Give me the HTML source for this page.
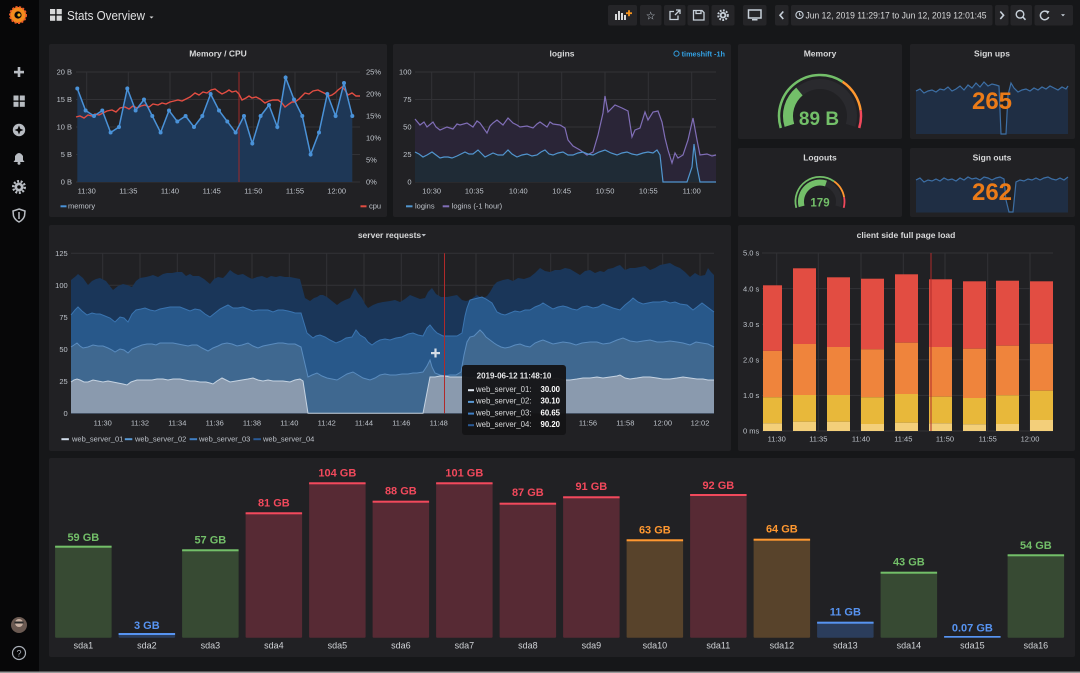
<!DOCTYPE html>
<html><head><meta charset="utf-8"><style>
html,body{margin:0;padding:0;background:#161719;width:1080px;height:673px;overflow:hidden}
svg{display:block;font-family:"Liberation Sans",Arial,sans-serif}
.t{fill:#d8d9da;font-size:8.5px;font-weight:bold;text-anchor:middle}
.k{fill:#bfc4cb;font-size:7.5px}
.km{fill:#bfc4cb;font-size:7.5px;text-anchor:middle}
.ke{fill:#bfc4cb;font-size:7.5px;text-anchor:end}
.g{stroke:#323236;stroke-width:1}
.bl{font-size:11px;font-weight:bold;text-anchor:middle}
.sl{fill:#d0d3d7;font-size:9px;text-anchor:middle}
.btn{fill:#252528}
.ic{fill:none;stroke:#c7d0d9;stroke-width:1.3}
</style></head><body>
<svg width="1080" height="673" viewBox="0 0 1080 673">
<rect x="0" y="0" width="1080" height="673" fill="#161719"/>
<!-- sidebar -->
<rect x="0" y="0" width="39" height="673" fill="#070708"/>
<circle cx="18" cy="15" r="8" fill="#f38b1c"/>
<circle cx="18" cy="15" r="8" fill="none" stroke="#f05a28" stroke-width="2" stroke-dasharray="2 1.5"/>
<circle cx="18" cy="15" r="3.6" fill="#070708"/>
<circle cx="19" cy="15" r="1.6" fill="#f9b11b"/>
<rect x="14" y="70.8" width="10" height="2.6" fill="#b8bcc2"/><rect x="17.7" y="67" width="2.6" height="10" fill="#b8bcc2"/>
<rect x="13.5" y="95.5" width="5" height="5" fill="#b8bcc2"/><rect x="19.8" y="95.5" width="5" height="5" fill="#b8bcc2"/>
<rect x="13.5" y="101.8" width="5" height="5" fill="#b8bcc2"/><rect x="19.8" y="101.8" width="5" height="5" fill="#b8bcc2"/>
<circle cx="19" cy="130" r="6.2" fill="#b8bcc2"/><polygon points="19,125.5 20.3,128.7 23.5,130 20.3,131.3 19,134.5 17.7,131.3 14.5,130 17.7,128.7" fill="#070708"/>
<path d="M13.5 162 L15 160 L15 156 Q19 150 23 156 L23 160 L24.5 162 Z" fill="#b8bcc2"/><circle cx="19" cy="163.3" r="1.5" fill="#b8bcc2"/>
<circle cx="19" cy="187" r="4.5" fill="#b8bcc2"/><circle cx="19" cy="187" r="5.8" fill="none" stroke="#b8bcc2" stroke-width="2.4" stroke-dasharray="2 1.6"/><circle cx="19" cy="187" r="1.8" fill="#070708"/>
<path d="M19 209 L25 211 L24.5 216 Q23 220 19 222 Q15 220 13.5 216 L13 211 Z" fill="none" stroke="#b8bcc2" stroke-width="1.5"/><path d="M19 212 L19 219" stroke="#b8bcc2" stroke-width="1.5"/>
<circle cx="19" cy="625" r="8" fill="#6b5a52"/><circle cx="19" cy="623" r="4" fill="#c9b1a3"/><rect x="14.5" y="621.5" width="9" height="2" fill="#2a2a2a"/>
<circle cx="19" cy="653" r="6.5" fill="none" stroke="#aab0b8" stroke-width="1.2"/><text x="19" y="656.5" fill="#aab0b8" font-size="9" text-anchor="middle">?</text>
<rect x="0" y="671.5" width="1080" height="1.5" fill="#9a9a9a"/>

<!-- top bar -->
<rect x="50" y="9" width="5.2" height="5.2" fill="#d8d9da"/><rect x="56.6" y="9" width="5.2" height="5.2" fill="#d8d9da"/>
<rect x="50" y="15.6" width="5.2" height="5.2" fill="#d8d9da"/><rect x="56.6" y="15.6" width="5.2" height="5.2" fill="#d8d9da"/>
<text x="67" y="20" fill="#e0e1e2" font-size="12.5" textLength="78" lengthAdjust="spacingAndGlyphs">Stats Overview</text>
<polygon points="149.5,16.5 153.5,16.5 151.5,18.5" fill="#d8d9da"/>

<rect class="btn" x="608" y="5" width="29" height="20.5" rx="2"/>
<rect x="615" y="14" width="2" height="6" fill="#d8d9da"/><rect x="618" y="11" width="2" height="9" fill="#d8d9da"/><rect x="621" y="13" width="2" height="7" fill="#d8d9da"/><rect x="624" y="15" width="2" height="5" fill="#d8d9da"/>
<rect x="626" y="12.3" width="6" height="1.8" fill="#f7941d"/><rect x="628.1" y="10.2" width="1.8" height="6" fill="#f7941d"/>
<rect class="btn" x="640" y="5" width="21.5" height="20.5" rx="2"/>
<text x="650.7" y="19.3" fill="#c7d0d9" font-size="11" text-anchor="middle" font-family="DejaVu Sans">☆</text>
<rect class="btn" x="664" y="5" width="21.5" height="20.5" rx="2"/>
<path class="ic" d="M678 15.5 V19.5 H670 V11.5 H674 M676 10 H680 V14 M680 10 L675 15"/>
<rect class="btn" x="687.5" y="5" width="21.5" height="20.5" rx="2"/>
<path class="ic" d="M693.5 10.5 H702 L704 12.5 V20 H693.5 Z M696 10.5 V13.5 H701 V10.5"/>
<rect class="btn" x="711.5" y="5" width="23" height="20.5" rx="2"/>
<circle cx="723" cy="15.2" r="3.3" fill="#c7d0d9"/><circle cx="723" cy="15.2" r="4.8" fill="none" stroke="#c7d0d9" stroke-width="2" stroke-dasharray="1.8 1.4"/><circle cx="723" cy="15.2" r="1.4" fill="#252528"/>
<rect class="btn" x="743" y="5" width="23.5" height="20.5" rx="2"/>
<rect x="748.5" y="10" width="12.5" height="8" fill="none" stroke="#c7d0d9" stroke-width="1.5"/><rect x="752" y="19" width="5.5" height="1.5" fill="#c7d0d9"/>
<rect class="btn" x="775" y="5" width="13.5" height="20.5" rx="2"/>
<polyline points="783.3,11.5 780,15.2 783.3,19" fill="none" stroke="#c7d0d9" stroke-width="1.6"/>
<rect class="btn" x="791" y="5" width="201.5" height="20.5" rx="2"/>
<circle cx="799.5" cy="15" r="3.6" fill="none" stroke="#c7d0d9" stroke-width="1.1"/><path d="M799.5 12.8 V15.2 H801.3" fill="none" stroke="#c7d0d9" stroke-width="0.9"/>
<text x="805.5" y="18.3" fill="#d8d9da" font-size="9.5" textLength="181" lengthAdjust="spacingAndGlyphs">Jun 12, 2019 11:29:17 to Jun 12, 2019 12:01:45</text>
<rect class="btn" x="995" y="5" width="13.5" height="20.5" rx="2"/>
<polyline points="1000.3,11.5 1003.6,15.2 1000.3,19" fill="none" stroke="#c7d0d9" stroke-width="1.6"/>
<rect class="btn" x="1010.5" y="5" width="21.5" height="20.5" rx="2"/>
<circle cx="1020" cy="14.3" r="3.8" fill="none" stroke="#c7d0d9" stroke-width="1.4"/><path d="M1022.8 17 L1025.5 19.8" stroke="#c7d0d9" stroke-width="1.6"/>
<rect class="btn" x="1034.5" y="5" width="38.5" height="20.5" rx="2"/>
<path d="M1047.5 12.2 A4.3 4.3 0 1 0 1048.7 17" fill="none" stroke="#c7d0d9" stroke-width="1.5"/><polygon points="1046,10.5 1049.5,11.3 1047.5,14.3" fill="#c7d0d9"/>
<polygon points="1061,14.2 1065,14.2 1063,16.4" fill="#c7d0d9"/>

<!-- panels -->
<rect x="49" y="44" width="338" height="173" rx="2" fill="#212124"/>
<rect x="393" y="44" width="338" height="173" rx="2" fill="#212124"/>
<rect x="738" y="44" width="164" height="95" rx="2" fill="#212124"/>
<rect x="910" y="44" width="165" height="95" rx="2" fill="#212124"/>
<rect x="738" y="148" width="164" height="69" rx="2" fill="#212124"/>
<rect x="910" y="148" width="165" height="69" rx="2" fill="#212124"/>
<rect x="49" y="225" width="682" height="226" rx="2" fill="#212124"/>
<rect x="738" y="225" width="337" height="226" rx="2" fill="#212124"/>
<rect x="49" y="458" width="1026" height="199" rx="2" fill="#212124"/>

<!-- ===== Memory / CPU ===== -->
<text class="t" x="218" y="56.5">Memory / CPU</text>
<g class="g">
<line x1="76" y1="72" x2="360" y2="72"/><line x1="76" y1="99.5" x2="360" y2="99.5"/><line x1="76" y1="127" x2="360" y2="127"/><line x1="76" y1="154.5" x2="360" y2="154.5"/><line x1="76" y1="182" x2="360" y2="182"/>
<line x1="86.7" y1="72" x2="86.7" y2="182"/><line x1="128.3" y1="72" x2="128.3" y2="182"/><line x1="170" y1="72" x2="170" y2="182"/><line x1="211.7" y1="72" x2="211.7" y2="182"/><line x1="253.3" y1="72" x2="253.3" y2="182"/><line x1="295" y1="72" x2="295" y2="182"/><line x1="336.7" y1="72" x2="336.7" y2="182"/>
</g>
<polygon fill="#1e3756" points="77.3,88.5 85.6,110.5 94,116 102.3,110.5 110.6,132.5 119,127 127.3,88.5 135.6,110.5 144,99.5 152.3,116 160.6,132.5 169,110.5 177.3,121.5 185.6,116 194,127 202.3,116 210.6,94 219,110.5 227.3,121.5 235.6,132.5 244,116 252.3,143.5 260.6,116 269,105 277.3,127 285.6,77.5 294,99.5 302.3,116 310.6,154.5 319,132.5 327.3,94 335.6,116 344,83 352.3,116 352.3,182 77.3,182"/>
<line x1="239" y1="72" x2="239" y2="182" stroke="#9e2a2a" stroke-width="1"/>
<polyline fill="none" stroke="#e24d42" stroke-width="1.4" points="76,117 80,116 84,118 88,115 92,116 95,114 99,115 103,113 107,111 112,110 116,112 120,108 125,107 129,109 133,106 137,108 141,106 145,105 149,107 153,104 158,105 162,103 166,104 170,102 174,101 178,100 182,101 186,99 190,97 195,93 199,95 203,92 207,93 211,90 215,89 219,92 222,94 226,92 229,90 232,92 236,91 239,94 242,100 246,98 249,96 252,98 256,97 260,99 265,103 269,101 273,100 278,100 282,103 285,107 289,104 292,102 295,102 299,99 302,96 305,93 309,94 313,91 318,90 322,92 326,94 329,96 332,95 335,93 338,90 342,87 345,90 348,95 352,93 356,96 360,96"/>
<polyline fill="none" stroke="#4a92d8" stroke-width="1.5" points="77.3,88.5 85.6,110.5 94,116 102.3,110.5 110.6,132.5 119,127 127.3,88.5 135.6,110.5 144,99.5 152.3,116 160.6,132.5 169,110.5 177.3,121.5 185.6,116 194,127 202.3,116 210.6,94 219,110.5 227.3,121.5 235.6,132.5 244,116 252.3,143.5 260.6,116 269,105 277.3,127 285.6,77.5 294,99.5 302.3,116 310.6,154.5 319,132.5 327.3,94 335.6,116 344,83 352.3,116"/>
<g fill="#4a92d8">
<circle cx="77.3" cy="88.5" r="2"/><circle cx="85.6" cy="110.5" r="2"/><circle cx="94" cy="116" r="2"/><circle cx="102.3" cy="110.5" r="2"/><circle cx="110.6" cy="132.5" r="2"/><circle cx="119" cy="127" r="2"/><circle cx="127.3" cy="88.5" r="2"/><circle cx="135.6" cy="110.5" r="2"/><circle cx="144" cy="99.5" r="2"/><circle cx="152.3" cy="116" r="2"/><circle cx="160.6" cy="132.5" r="2"/><circle cx="169" cy="110.5" r="2"/><circle cx="177.3" cy="121.5" r="2"/><circle cx="185.6" cy="116" r="2"/><circle cx="194" cy="127" r="2"/><circle cx="202.3" cy="116" r="2"/><circle cx="210.6" cy="94" r="2"/><circle cx="219" cy="110.5" r="2"/><circle cx="227.3" cy="121.5" r="2"/><circle cx="235.6" cy="132.5" r="2"/><circle cx="244" cy="116" r="2"/><circle cx="252.3" cy="143.5" r="2"/><circle cx="260.6" cy="116" r="2"/><circle cx="269" cy="105" r="2"/><circle cx="277.3" cy="127" r="2"/><circle cx="285.6" cy="77.5" r="2"/><circle cx="294" cy="99.5" r="2"/><circle cx="302.3" cy="116" r="2"/><circle cx="310.6" cy="154.5" r="2"/><circle cx="319" cy="132.5" r="2"/><circle cx="327.3" cy="94" r="2"/><circle cx="335.6" cy="116" r="2"/><circle cx="344" cy="83" r="2"/><circle cx="352.3" cy="116" r="2"/>
</g>
<text class="ke" x="72" y="74.7">20 B</text><text class="ke" x="72" y="102.2">15 B</text><text class="ke" x="72" y="129.7">10 B</text><text class="ke" x="72" y="157.2">5 B</text><text class="ke" x="72" y="184.7">0 B</text>
<text class="k" x="366" y="74.7">25%</text><text class="k" x="366" y="96.7">20%</text><text class="k" x="366" y="118.7">15%</text><text class="k" x="366" y="140.7">10%</text><text class="k" x="366" y="162.7">5%</text><text class="k" x="366" y="184.7">0%</text>
<text class="km" x="86.7" y="193.5">11:30</text><text class="km" x="128.3" y="193.5">11:35</text><text class="km" x="170" y="193.5">11:40</text><text class="km" x="211.7" y="193.5">11:45</text><text class="km" x="253.3" y="193.5">11:50</text><text class="km" x="295" y="193.5">11:55</text><text class="km" x="336.7" y="193.5">12:00</text>
<rect x="60.5" y="205.3" width="6" height="2" fill="#4a92d8"/><text class="k" x="68" y="208.6">memory</text>
<rect x="360.5" y="205.3" width="6" height="2" fill="#e24d42"/><text class="k" x="369" y="208.6">cpu</text>

<!-- ===== logins ===== -->
<text class="t" x="562" y="56.5">logins</text>
<circle cx="676.5" cy="53.6" r="2.6" fill="none" stroke="#33a2e5" stroke-width="0.9"/>
<text x="725" y="56.3" fill="#33a2e5" font-size="7.3" font-weight="bold" text-anchor="end">timeshift -1h</text>
<g class="g">
<line x1="415" y1="72" x2="716" y2="72"/><line x1="415" y1="99.5" x2="716" y2="99.5"/><line x1="415" y1="127" x2="716" y2="127"/><line x1="415" y1="154.5" x2="716" y2="154.5"/><line x1="415" y1="182" x2="716" y2="182"/>
<line x1="431.7" y1="72" x2="431.7" y2="182"/><line x1="474.3" y1="72" x2="474.3" y2="182"/><line x1="518.3" y1="72" x2="518.3" y2="182"/><line x1="561.7" y1="72" x2="561.7" y2="182"/><line x1="605" y1="72" x2="605" y2="182"/><line x1="648.3" y1="72" x2="648.3" y2="182"/><line x1="691.7" y1="72" x2="691.7" y2="182"/>
</g>
<polygon fill="#2a2537" points="415,119 420,125 424,122 427,127 433,122 436,127 440,130 447,127 453,129 457,124 460,125 467,123 473,127 477,121 480,123 487,133 490,126 493,123 497,120 503,125 508,118 513,123 517,125 520,127 527,126 533,128 537,124 540,122 547,127 550,122 553,124 560,125 565,128 568,140 573,146 580,150 587,155 593,152 598,135 603,113 605,96 608,112 615,105 622,108 628,111 632,137 635,130 640,128 645,112 648,120 653,112 658,111 662,122 665,138 668,150 672,163 675,153 678,158 683,155 688,140 693,118 697,140 700,155 707,154 712,156 716,155 716,182 415,182"/>
<polygon fill="#1f2b36" points="415,152 419,154 423,157 427,155 432,152 436,155 440,158 444,157 448,157 452,158 457,156 461,154 465,152 469,154 473,154 478,150 481,153 485,157 489,155 493,153 498,155 503,155 508,150 512,154 517,157 522,155 527,154 532,156 537,155 541,152 545,150 549,154 553,155 558,153 563,152 568,155 573,155 578,153 583,152 588,154 593,155 599,152 605,150 611,153 617,155 622,153 627,152 632,154 637,155 643,153 648,152 653,153 657,150 660,155 663,182 687,182 692,167 694,144 697,167 700,182 716,182 415,182"/>
<polyline fill="none" stroke="#806eb7" stroke-width="1.2" points="415,119 420,125 424,122 427,127 433,122 436,127 440,130 447,127 453,129 457,124 460,125 467,123 473,127 477,121 480,123 487,133 490,126 493,123 497,120 503,125 508,118 513,123 517,125 520,127 527,126 533,128 537,124 540,122 547,127 550,122 553,124 560,125 565,128 568,140 573,146 580,150 587,155 593,152 598,135 603,113 605,96 608,112 615,105 622,108 628,111 632,137 635,130 640,128 645,112 648,120 653,112 658,111 662,122 665,138 668,150 672,163 675,153 678,158 683,155 688,140 693,118 697,140 700,155 707,154 712,156 716,155"/>
<polyline fill="none" stroke="#5195ce" stroke-width="1.2" points="415,152 419,154 423,157 427,155 432,152 436,155 440,158 444,157 448,157 452,158 457,156 461,154 465,152 469,154 473,154 478,150 481,153 485,157 489,155 493,153 498,155 503,155 508,150 512,154 517,157 522,155 527,154 532,156 537,155 541,152 545,150 549,154 553,155 558,153 563,152 568,155 573,155 578,153 583,152 588,154 593,155 599,152 605,150 611,153 617,155 622,153 627,152 632,154 637,155 643,153 648,152 653,153 657,150 660,155 663,182 687,182 692,167 694,144 697,167 700,182 716,182"/>
<text class="ke" x="411.5" y="74.7">100</text><text class="ke" x="411.5" y="102.2">75</text><text class="ke" x="411.5" y="129.7">50</text><text class="ke" x="411.5" y="157.2">25</text><text class="ke" x="411.5" y="184.7">0</text>
<text class="km" x="431.7" y="193.5">10:30</text><text class="km" x="474.3" y="193.5">10:35</text><text class="km" x="518.3" y="193.5">10:40</text><text class="km" x="561.7" y="193.5">10:45</text><text class="km" x="605" y="193.5">10:50</text><text class="km" x="648.3" y="193.5">10:55</text><text class="km" x="691.7" y="193.5">11:00</text>
<rect x="406" y="205.3" width="6.5" height="2" fill="#5195ce"/><text class="k" x="415" y="208.6">logins</text>
<rect x="442.7" y="205.3" width="6.5" height="2" fill="#806eb7"/><text class="k" x="451.7" y="208.6">logins (-1 hour)</text>

<!-- ===== Memory gauge ===== -->
<text class="t" x="820" y="56.5">Memory</text>
<path d="M780.8,128 A41,41 0 0 1 842.6,81.8" fill="none" stroke="#73bf69" stroke-width="2.5"/>
<path d="M842.6,81.8 A41,41 0 0 1 860.6,110.3" fill="none" stroke="#ff9830" stroke-width="2.5"/>
<path d="M860.6,110.3 A41,41 0 0 1 859.2,128" fill="none" stroke="#f2495c" stroke-width="2.5"/>
<path d="M789.4,125.4 A32,32 0 1 1 850.6,125.4" fill="none" stroke="#2a2a2e" stroke-width="10"/>
<path d="M789.4,125.4 A32,32 0 0 1 799.4,91.5" fill="none" stroke="#73bf69" stroke-width="10"/>
<text x="819" y="125" fill="#73bf69" font-size="19" font-weight="bold" text-anchor="middle">89 B</text>

<!-- ===== Logouts gauge ===== -->
<text class="t" x="820" y="160.5">Logouts</text>
<path d="M796.3,207.8 A24.5,24.5 0 0 1 834.1,181.4" fill="none" stroke="#73bf69" stroke-width="1.8"/>
<path d="M834.1,181.4 A24.5,24.5 0 0 1 844.1,197.2" fill="none" stroke="#ff9830" stroke-width="1.8"/>
<path d="M844.1,197.2 A24.5,24.5 0 0 1 843.7,207.8" fill="none" stroke="#f2495c" stroke-width="1.8"/>
<path d="M801.6,206.4 A19,19 0 1 1 838.4,206.4" fill="none" stroke="#2a2a2e" stroke-width="6"/>
<path d="M801.6,206.4 A19,19 0 0 1 826,183.5" fill="none" stroke="#73bf69" stroke-width="6"/>
<text x="820" y="206.7" fill="#73bf69" font-size="11.5" font-weight="bold" text-anchor="middle">179</text>

<!-- ===== Sign ups ===== -->
<text class="t" x="992" y="56.5">Sign ups</text>
<polygon fill="#1f2e44" points="916,91 920,89 924,93 928,91 932,90 936,92 940,89 944,90 948,87 952,91 956,89 960,86 964,90 968,85 972,88 976,83 980,87 984,82 988,86 992,84 996,85 999,86 1001,134 1006,134 1008,95 1011,83 1014,88 1018,92 1022,90 1026,89 1030,91 1034,88 1038,90 1042,87 1046,89 1050,86 1054,88 1058,90 1062,87 1066,89 1068,86 1068,134 916,134"/>
<polyline fill="none" stroke="#3d6fa5" stroke-width="1.2" points="916,91 920,89 924,93 928,91 932,90 936,92 940,89 944,90 948,87 952,91 956,89 960,86 964,90 968,85 972,88 976,83 980,87 984,82 988,86 992,84 996,85 999,86 1001,134 1006,134 1008,95 1011,83 1014,88 1018,92 1022,90 1026,89 1030,91 1034,88 1038,90 1042,87 1046,89 1050,86 1054,88 1058,90 1062,87 1066,89 1068,86"/>
<text x="992" y="109" fill="#eb7b18" font-size="24" font-weight="bold" text-anchor="middle">265</text>

<!-- ===== Sign outs ===== -->
<text class="t" x="992" y="160.5">Sign outs</text>
<polygon fill="#1f2e44" points="916,180 920,178 924,182 928,180 932,181 936,179 940,181 944,178 948,180 952,179 956,181 960,178 964,180 968,177 972,179 976,178 980,180 984,177 988,178 992,180 996,178 1000,177 1004,179 1006,200 1009,212 1013,212 1016,182 1020,180 1024,181 1028,179 1032,180 1036,178 1040,180 1044,178 1048,177 1052,179 1056,180 1060,178 1064,180 1068,177 1068,212.5 916,212.5"/>
<polyline fill="none" stroke="#3d6fa5" stroke-width="1.2" points="916,180 920,178 924,182 928,180 932,181 936,179 940,181 944,178 948,180 952,179 956,181 960,178 964,180 968,177 972,179 976,178 980,180 984,177 988,178 992,180 996,178 1000,177 1004,179 1006,200 1009,212 1013,212 1016,182 1020,180 1024,181 1028,179 1032,180 1036,178 1040,180 1044,178 1048,177 1052,179 1056,180 1060,178 1064,180 1068,177"/>
<text x="992" y="200" fill="#eb7b18" font-size="24" font-weight="bold" text-anchor="middle">262</text>

<!-- ===== server requests ===== -->
<text class="t" x="389.5" y="238">server requests</text>
<polygon points="421.5,234 426,234 423.75,236.5" fill="#b8bcc2"/>
<g class="g">
<line x1="71" y1="253.3" x2="714" y2="253.3"/><line x1="71" y1="285.3" x2="714" y2="285.3"/><line x1="71" y1="317.3" x2="714" y2="317.3"/><line x1="71" y1="349.3" x2="714" y2="349.3"/><line x1="71" y1="381.3" x2="714" y2="381.3"/><line x1="71" y1="413.3" x2="714" y2="413.3"/>
<line x1="102.7" y1="253.3" x2="102.7" y2="413.3"/><line x1="140" y1="253.3" x2="140" y2="413.3"/><line x1="177.3" y1="253.3" x2="177.3" y2="413.3"/><line x1="214.7" y1="253.3" x2="214.7" y2="413.3"/><line x1="252" y1="253.3" x2="252" y2="413.3"/><line x1="289.3" y1="253.3" x2="289.3" y2="413.3"/><line x1="326.7" y1="253.3" x2="326.7" y2="413.3"/><line x1="364" y1="253.3" x2="364" y2="413.3"/><line x1="401.3" y1="253.3" x2="401.3" y2="413.3"/><line x1="438.7" y1="253.3" x2="438.7" y2="413.3"/><line x1="476" y1="253.3" x2="476" y2="413.3"/><line x1="513.3" y1="253.3" x2="513.3" y2="413.3"/><line x1="550.7" y1="253.3" x2="550.7" y2="413.3"/><line x1="588" y1="253.3" x2="588" y2="413.3"/><line x1="625.3" y1="253.3" x2="625.3" y2="413.3"/><line x1="662.7" y1="253.3" x2="662.7" y2="413.3"/><line x1="700" y1="253.3" x2="700" y2="413.3"/>
</g>
<polygon fill="#1a3659" points="71,280 76,276 78,274 83,278 88,285 92,281 96,279 100,278 106,281 113,290 118,286 123,284 127,285 132,287 136,281 140,278 146,277 150,276 153,275 158,277 163,274 167,273 172,273 177,272 182,272 186,276 190,274 193,276 199,276 204,279 210,284 214,279 218,277 223,278 226,275 230,270 234,273 238,275 243,274 248,277 252,279 257,277 262,276 267,278 271,276 276,277 280,276 285,277 290,277 295,278 300,279 305,298 310,301 314,298 317,297 320,295 323,295 327,297 332,301 337,305 341,302 345,300 350,298 355,288 358,293 362,298 365,304 368,308 373,305 378,303 383,302 390,301 395,300 400,302 405,299 410,295 415,297 420,299 425,298 428,292 432,288 436,294 441,297 447,297 452,296 457,295 462,300 466,301 470,300 474,297 477,295 480,297 483,298 487,296 490,292 494,285 497,282 503,280 508,279 513,281 518,278 524,279 530,277 535,273 540,268 545,271 550,272 555,270 560,270 565,268 570,269 575,272 580,275 585,271 590,270 595,273 600,271 604,272 608,269 613,268 617,266 620,265 625,270 630,268 635,268 640,267 645,266 650,270 655,268 660,265 665,264 670,263 675,266 680,268 685,272 690,277 695,273 700,276 705,275 708,268 711,272 714,275 714,413.3 71,413.3"/>
<polygon fill="#28588a" points="71,315 75,310 78,307 82,311 87,315 92,313 96,314 100,314 105,316 110,318 115,322 120,317 124,318 128,322 132,314 136,310 141,309 145,308 150,310 155,311 160,309 165,308 170,307 175,307 180,307 185,309 190,311 195,309 200,310 205,314 210,317 215,313 220,309 224,307 228,305 233,308 238,308 243,307 248,309 253,311 258,310 263,310 268,310 273,312 278,310 283,310 288,311 292,312 295,313 301,313 307,333 313,338 316,336 320,335 325,337 330,340 336,343 341,341 346,338 352,337 356,330 360,335 365,338 368,342 372,345 376,342 380,340 385,339 390,340 396,338 402,337 408,334 413,333 418,335 423,336 427,328 430,325 434,330 437,333 443,336 450,336 457,336 462,333 465,316 467,308 470,300 474,299 478,298 482,297 486,299 489,301 492,303 497,312 501,314 505,315 510,313 515,311 520,312 525,310 530,310 535,307 540,305 543,303 548,306 553,309 558,307 563,306 567,307 572,309 577,310 582,307 587,306 593,308 598,307 603,304 608,306 613,308 620,310 625,305 630,301 633,298 638,302 643,304 648,303 653,302 660,302 665,301 670,303 675,302 680,304 687,305 693,310 697,307 702,303 706,306 710,309 714,312 714,413.3 71,413.3"/>
<polyline fill="none" stroke="#3a74b0" stroke-width="1" points="71,315 75,310 78,307 82,311 87,315 92,313 96,314 100,314 105,316 110,318 115,322 120,317 124,318 128,322 132,314 136,310 141,309 145,308 150,310 155,311 160,309 165,308 170,307 175,307 180,307 185,309 190,311 195,309 200,310 205,314 210,317 215,313 220,309 224,307 228,305 233,308 238,308 243,307 248,309 253,311 258,310 263,310 268,310 273,312 278,310 283,310 288,311 292,312 295,313 301,313 307,333 313,338 316,336 320,335 325,337 330,340 336,343 341,341 346,338 352,337 356,330 360,335 365,338 368,342 372,345 376,342 380,340 385,339 390,340 396,338 402,337 408,334 413,333 418,335 423,336 427,328 430,325 434,330 437,333 443,336 450,336 457,336 462,333 465,316 467,308 470,300 474,299 478,298 482,297 486,299 489,301 492,303 497,312 501,314 505,315 510,313 515,311 520,312 525,310 530,310 535,307 540,305 543,303 548,306 553,309 558,307 563,306 567,307 572,309 577,310 582,307 587,306 593,308 598,307 603,304 608,306 613,308 620,310 625,305 630,301 633,298 638,302 643,304 648,303 653,302 660,302 665,301 670,303 675,302 680,304 687,305 693,310 697,307 702,303 706,306 710,309 714,312"/>
<polygon fill="#3f6890" points="71,347 74,345 77,343 80,346 83,348 88,347 93,345 98,346 103,346 108,348 112,350 115,352 120,349 124,350 128,353 132,349 137,347 142,345 147,344 152,344 156,345 160,343 166,343 173,343 178,344 183,345 188,346 192,345 197,345 202,348 208,351 213,348 218,346 222,344 227,343 232,344 237,346 242,345 248,343 253,346 258,348 263,346 268,345 273,344 278,343 283,343 288,344 295,344 301,347 308,377 312,375 317,373 322,376 327,378 332,379 337,380 342,377 347,374 353,372 358,375 363,378 370,380 375,378 380,375 385,374 390,375 396,375 402,374 408,374 413,373 417,373 423,372 427,366 430,360 432,367 435,373 440,375 445,376 450,375 456,375 461,372 464,355 467,342 470,337 474,336 477,333 480,330 483,333 486,337 490,340 494,343 497,345 501,347 505,348 510,347 515,345 520,344 525,346 530,347 535,343 540,341 543,340 548,342 553,344 558,343 563,342 570,343 576,345 582,343 590,342 597,342 603,344 610,343 617,340 623,338 630,341 637,342 643,341 650,340 657,342 663,342 670,341 677,342 683,343 690,345 696,342 702,343 708,344 714,347 714,413.3 71,413.3"/>
<polyline fill="none" stroke="#5a8cbf" stroke-width="1" points="71,347 74,345 77,343 80,346 83,348 88,347 93,345 98,346 103,346 108,348 112,350 115,352 120,349 124,350 128,353 132,349 137,347 142,345 147,344 152,344 156,345 160,343 166,343 173,343 178,344 183,345 188,346 192,345 197,345 202,348 208,351 213,348 218,346 222,344 227,343 232,344 237,346 242,345 248,343 253,346 258,348 263,346 268,345 273,344 278,343 283,343 288,344 295,344 301,347 308,377 312,375 317,373 322,376 327,378 332,379 337,380 342,377 347,374 353,372 358,375 363,378 370,380 375,378 380,375 385,374 390,375 396,375 402,374 408,374 413,373 417,373 423,372 427,366 430,360 432,367 435,373 440,375 445,376 450,375 456,375 461,372 464,355 467,342 470,337 474,336 477,333 480,330 483,333 486,337 490,340 494,343 497,345 501,347 505,348 510,347 515,345 520,344 525,346 530,347 535,343 540,341 543,340 548,342 553,344 558,343 563,342 570,343 576,345 582,343 590,342 597,342 603,344 610,343 617,340 623,338 630,341 637,342 643,341 650,340 657,342 663,342 670,341 677,342 683,343 690,345 696,342 702,343 708,344 714,347"/>
<polygon fill="#8a9aae" points="71,382 74,380 77,379 80,380 84,382 88,382 93,380 98,381 103,382 108,381 113,382 118,383 123,384 127,385 131,382 137,380 142,380 147,380 152,380 157,379 163,379 168,380 173,379 180,379 185,380 190,381 195,381 200,382 206,382 210,383 213,384 217,381 222,378 226,380 230,382 236,381 242,380 248,379 253,378 258,380 263,381 268,380 273,381 277,381 283,381 290,382 295,380 300,379 303,381 308,413.3 423,413.3 430,377 435,377 440,376 445,376 450,377 455,377 460,377 465,377 470,378 475,377 480,378 485,378 490,378 497,379 503,380 510,379 517,378 523,379 530,378 537,379 543,379 550,379 557,378 563,380 570,380 577,379 583,378 590,378 597,377 603,378 610,377 617,376 620,375 625,378 630,379 637,378 643,377 650,377 657,378 663,379 670,379 677,378 683,377 690,378 697,379 703,379 708,380 714,380 714,413.3 71,413.3"/>
<polyline fill="none" stroke="#c5d3e2" stroke-width="1" points="71,382 74,380 77,379 80,380 84,382 88,382 93,380 98,381 103,382 108,381 113,382 118,383 123,384 127,385 131,382 137,380 142,380 147,380 152,380 157,379 163,379 168,380 173,379 180,379 185,380 190,381 195,381 200,382 206,382 210,383 213,384 217,381 222,378 226,380 230,382 236,381 242,380 248,379 253,378 258,380 263,381 268,380 273,381 277,381 283,381 290,382 295,380 300,379 303,381 308,413.3 423,413.3 430,377 435,377 440,376 445,376 450,377 455,377 460,377 465,377 470,378 475,377 480,378 485,378 490,378 497,379 503,380 510,379 517,378 523,379 530,378 537,379 543,379 550,379 557,378 563,380 570,380 577,379 583,378 590,378 597,377 603,378 610,377 617,376 620,375 625,378 630,379 637,378 643,377 650,377 657,378 663,379 670,379 677,378 683,377 690,378 697,379 703,379 708,380 714,380"/>
<line x1="444.5" y1="253.3" x2="444.5" y2="413.3" stroke="#b02a2a" stroke-width="1"/>
<rect x="431" y="352" width="9" height="2.2" fill="#d5dde6"/><rect x="434.4" y="348.5" width="2.2" height="9" fill="#d5dde6"/>
<text class="ke" x="67.7" y="256">125</text><text class="ke" x="67.7" y="288">100</text><text class="ke" x="67.7" y="320">75</text><text class="ke" x="67.7" y="352">50</text><text class="ke" x="67.7" y="384">25</text><text class="ke" x="67.7" y="416">0</text>
<text class="km" x="102.7" y="425.5">11:30</text><text class="km" x="140" y="425.5">11:32</text><text class="km" x="177.3" y="425.5">11:34</text><text class="km" x="214.7" y="425.5">11:36</text><text class="km" x="252" y="425.5">11:38</text><text class="km" x="289.3" y="425.5">11:40</text><text class="km" x="326.7" y="425.5">11:42</text><text class="km" x="364" y="425.5">11:44</text><text class="km" x="401.3" y="425.5">11:46</text><text class="km" x="438.7" y="425.5">11:48</text><text class="km" x="476" y="425.5">11:50</text><text class="km" x="513.3" y="425.5">11:52</text><text class="km" x="550.7" y="425.5">11:54</text><text class="km" x="588" y="425.5">11:56</text><text class="km" x="625.3" y="425.5">11:58</text><text class="km" x="662.7" y="425.5">12:00</text><text class="km" x="700" y="425.5">12:02</text>
<rect x="61.4" y="438.2" width="7.5" height="2" fill="#d0dbe8"/><text class="k" x="72" y="441.5">web_server_01</text>
<rect x="124.8" y="438.2" width="7.5" height="2" fill="#5a9ad5"/><text class="k" x="135" y="441.5">web_server_02</text>
<rect x="189.6" y="438.2" width="7.5" height="2" fill="#3f7ec4"/><text class="k" x="199" y="441.5">web_server_03</text>
<rect x="253.4" y="438.2" width="7.5" height="2" fill="#2a5a96"/><text class="k" x="263" y="441.5">web_server_04</text>
<!-- tooltip -->
<rect x="462" y="365" width="104" height="70" rx="3" fill="#141416" fill-opacity="0.96"/>
<text x="514" y="378.3" fill="#e8e9ea" font-size="8" font-weight="bold" text-anchor="middle">2019-06-12 11:48:10</text>
<rect x="468" y="389.2" width="6" height="2" fill="#e0e8f0"/><text x="476" y="392" fill="#d8d9da" font-size="7.8">web_server_01:</text><text x="560" y="392" fill="#ffffff" font-size="7.8" font-weight="bold" text-anchor="end">30.00</text>
<rect x="468" y="400.9" width="6" height="2" fill="#5a9ad5"/><text x="476" y="403.7" fill="#d8d9da" font-size="7.8">web_server_02:</text><text x="560" y="403.7" fill="#ffffff" font-size="7.8" font-weight="bold" text-anchor="end">30.10</text>
<rect x="468" y="412.6" width="6" height="2" fill="#3f7ec4"/><text x="476" y="415.4" fill="#d8d9da" font-size="7.8">web_server_03:</text><text x="560" y="415.4" fill="#ffffff" font-size="7.8" font-weight="bold" text-anchor="end">60.65</text>
<rect x="468" y="424.2" width="6" height="2" fill="#2a5a96"/><text x="476" y="427" fill="#d8d9da" font-size="7.8">web_server_04:</text><text x="560" y="427" fill="#ffffff" font-size="7.8" font-weight="bold" text-anchor="end">90.20</text>

<!-- ===== client side full page load ===== -->
<text class="t" x="906" y="238">client side full page load</text>
<g class="g">
<line x1="762" y1="253" x2="1053" y2="253"/><line x1="762" y1="288.6" x2="1053" y2="288.6"/><line x1="762" y1="324.2" x2="1053" y2="324.2"/><line x1="762" y1="359.8" x2="1053" y2="359.8"/><line x1="762" y1="395.4" x2="1053" y2="395.4"/><line x1="762" y1="431" x2="1053" y2="431"/>
<line x1="776.7" y1="253" x2="776.7" y2="431"/><line x1="818.3" y1="253" x2="818.3" y2="431"/><line x1="861" y1="253" x2="861" y2="431"/><line x1="903.3" y1="253" x2="903.3" y2="431"/><line x1="945" y1="253" x2="945" y2="431"/><line x1="987.7" y1="253" x2="987.7" y2="431"/><line x1="1030" y1="253" x2="1030" y2="431"/>
</g>
<g>
<rect x="763" y="285.3" width="19" height="65.6" fill="#e24d42"/><rect x="763" y="350.9" width="19" height="46.4" fill="#ef843c"/><rect x="763" y="397.3" width="19" height="26" fill="#e8b83a"/><rect x="763" y="423.3" width="19" height="7.7" fill="#f3cf7a"/>
<rect x="793" y="268.3" width="23" height="75.7" fill="#e24d42"/><rect x="793" y="344" width="23" height="51" fill="#ef843c"/><rect x="793" y="395" width="23" height="26.7" fill="#e8b83a"/><rect x="793" y="421.7" width="23" height="9.3" fill="#f3cf7a"/>
<rect x="827" y="277.3" width="23" height="69.7" fill="#e24d42"/><rect x="827" y="347" width="23" height="48" fill="#ef843c"/><rect x="827" y="395" width="23" height="26.7" fill="#e8b83a"/><rect x="827" y="421.7" width="23" height="9.3" fill="#f3cf7a"/>
<rect x="861" y="278.7" width="23" height="70.6" fill="#e24d42"/><rect x="861" y="349.3" width="23" height="48" fill="#ef843c"/><rect x="861" y="397.3" width="23" height="26.7" fill="#e8b83a"/><rect x="861" y="424" width="23" height="7" fill="#f3cf7a"/>
<rect x="895" y="274.3" width="23" height="68.4" fill="#e24d42"/><rect x="895" y="342.7" width="23" height="51.3" fill="#ef843c"/><rect x="895" y="394" width="23" height="28.7" fill="#e8b83a"/><rect x="895" y="422.7" width="23" height="8.3" fill="#f3cf7a"/>
<rect x="929" y="279.3" width="23" height="67.7" fill="#e24d42"/><rect x="929" y="347" width="23" height="49.7" fill="#ef843c"/><rect x="929" y="396.7" width="23" height="26.6" fill="#e8b83a"/><rect x="929" y="423.3" width="23" height="7.7" fill="#f3cf7a"/>
<rect x="963" y="281.3" width="23" height="67.4" fill="#e24d42"/><rect x="963" y="348.7" width="23" height="49.3" fill="#ef843c"/><rect x="963" y="398" width="23" height="26.3" fill="#e8b83a"/><rect x="963" y="424.3" width="23" height="6.7" fill="#f3cf7a"/>
<rect x="996" y="280.7" width="23" height="65" fill="#e24d42"/><rect x="996" y="345.7" width="23" height="49.6" fill="#ef843c"/><rect x="996" y="395.3" width="23" height="28.7" fill="#e8b83a"/><rect x="996" y="424" width="23" height="7" fill="#f3cf7a"/>
<rect x="1030" y="281.3" width="23" height="62.4" fill="#e24d42"/><rect x="1030" y="343.7" width="23" height="47" fill="#ef843c"/><rect x="1030" y="390.7" width="23" height="29.3" fill="#e8b83a"/><rect x="1030" y="420" width="23" height="11" fill="#f3cf7a"/>
</g>
<line x1="931" y1="253" x2="931" y2="431" stroke="#b02a2a" stroke-width="1"/>
<text class="ke" x="759.3" y="255.7">5.0 s</text><text class="ke" x="759.3" y="291.3">4.0 s</text><text class="ke" x="759.3" y="326.9">3.0 s</text><text class="ke" x="759.3" y="362.5">2.0 s</text><text class="ke" x="759.3" y="398.1">1.0 s</text><text class="ke" x="759.3" y="433.7">0 ms</text>
<text class="km" x="776.7" y="441.5">11:30</text><text class="km" x="818.3" y="441.5">11:35</text><text class="km" x="861" y="441.5">11:40</text><text class="km" x="903.3" y="441.5">11:45</text><text class="km" x="945" y="441.5">11:50</text><text class="km" x="987.7" y="441.5">11:55</text><text class="km" x="1030" y="441.5">12:00</text>

<!-- ===== bar gauge ===== -->
<g>
<rect x="55.1" y="545.7" width="56.5" height="92" fill="#374a33" rx="1"/><rect x="55.1" y="545.7" width="56.5" height="2" fill="#73bf69"/>
<rect x="118.6" y="633" width="56.5" height="4.7" fill="#2b3d5c" rx="1"/><rect x="118.6" y="633" width="56.5" height="2" fill="#5794f2"/>
<rect x="182.1" y="549.3" width="56.5" height="88.4" fill="#374a33" rx="1"/><rect x="182.1" y="549.3" width="56.5" height="2" fill="#73bf69"/>
<rect x="245.6" y="512.3" width="56.5" height="125.4" fill="#572a34" rx="1"/><rect x="245.6" y="512.3" width="56.5" height="2" fill="#f2495c"/>
<rect x="309.1" y="482.3" width="56.5" height="155.4" fill="#572a34" rx="1"/><rect x="309.1" y="482.3" width="56.5" height="2" fill="#f2495c"/>
<rect x="372.6" y="500.7" width="56.5" height="137" fill="#572a34" rx="1"/><rect x="372.6" y="500.7" width="56.5" height="2" fill="#f2495c"/>
<rect x="436.1" y="482.3" width="56.5" height="155.4" fill="#572a34" rx="1"/><rect x="436.1" y="482.3" width="56.5" height="2" fill="#f2495c"/>
<rect x="499.6" y="502.7" width="56.5" height="135" fill="#572a34" rx="1"/><rect x="499.6" y="502.7" width="56.5" height="2" fill="#f2495c"/>
<rect x="563.1" y="496.3" width="56.5" height="141.4" fill="#572a34" rx="1"/><rect x="563.1" y="496.3" width="56.5" height="2" fill="#f2495c"/>
<rect x="626.6" y="539.3" width="56.5" height="98.4" fill="#58432b" rx="1"/><rect x="626.6" y="539.3" width="56.5" height="2" fill="#ff9830"/>
<rect x="690.1" y="494" width="56.5" height="143.7" fill="#572a34" rx="1"/><rect x="690.1" y="494" width="56.5" height="2" fill="#f2495c"/>
<rect x="753.6" y="538.7" width="56.5" height="99" fill="#58432b" rx="1"/><rect x="753.6" y="538.7" width="56.5" height="2" fill="#ff9830"/>
<rect x="817.1" y="621.7" width="56.5" height="16" fill="#2b3d5c" rx="1"/><rect x="817.1" y="621.7" width="56.5" height="2" fill="#5794f2"/>
<rect x="880.6" y="571.7" width="56.5" height="66" fill="#374a33" rx="1"/><rect x="880.6" y="571.7" width="56.5" height="2" fill="#73bf69"/>
<rect x="944.1" y="636" width="56.5" height="1.7" fill="#5794f2"/>
<rect x="1007.6" y="554.3" width="56.5" height="83.4" fill="#374a33" rx="1"/><rect x="1007.6" y="554.3" width="56.5" height="2" fill="#73bf69"/>
</g>
<text class="bl" x="83.35" y="541" fill="#73bf69">59 GB</text>
<text class="bl" x="146.85" y="629" fill="#5794f2" font-size="14.5">3 GB</text>
<text class="bl" x="210.35" y="543.3" fill="#73bf69">57 GB</text>
<text class="bl" x="273.85" y="506.7" fill="#f2495c">81 GB</text>
<text class="bl" x="337.35" y="476.7" fill="#f2495c" font-size="10">104 GB</text>
<text class="bl" x="400.85" y="494.3" fill="#f2495c">88 GB</text>
<text class="bl" x="464.35" y="476.7" fill="#f2495c" font-size="10">101 GB</text>
<text class="bl" x="527.85" y="496" fill="#f2495c">87 GB</text>
<text class="bl" x="591.35" y="490" fill="#f2495c">91 GB</text>
<text class="bl" x="654.85" y="533.3" fill="#ff9830">63 GB</text>
<text class="bl" x="718.35" y="489" fill="#f2495c">92 GB</text>
<text class="bl" x="781.85" y="532.7" fill="#ff9830">64 GB</text>
<text class="bl" x="845.35" y="615.7" fill="#5794f2">11 GB</text>
<text class="bl" x="908.85" y="565.7" fill="#73bf69">43 GB</text>
<text class="bl" x="972.35" y="631.7" fill="#5794f2" font-size="9.5">0.07 GB</text>
<text class="bl" x="1035.85" y="549" fill="#73bf69">54 GB</text>
<text class="sl" x="83.35" y="648.5">sda1</text><text class="sl" x="146.85" y="648.5">sda2</text><text class="sl" x="210.35" y="648.5">sda3</text><text class="sl" x="273.85" y="648.5">sda4</text><text class="sl" x="337.35" y="648.5">sda5</text><text class="sl" x="400.85" y="648.5">sda6</text><text class="sl" x="464.35" y="648.5">sda7</text><text class="sl" x="527.85" y="648.5">sda8</text><text class="sl" x="591.35" y="648.5">sda9</text><text class="sl" x="654.85" y="648.5">sda10</text><text class="sl" x="718.35" y="648.5">sda11</text><text class="sl" x="781.85" y="648.5">sda12</text><text class="sl" x="845.35" y="648.5">sda13</text><text class="sl" x="908.85" y="648.5">sda14</text><text class="sl" x="972.35" y="648.5">sda15</text><text class="sl" x="1035.85" y="648.5">sda16</text>
</svg>
</body></html>
